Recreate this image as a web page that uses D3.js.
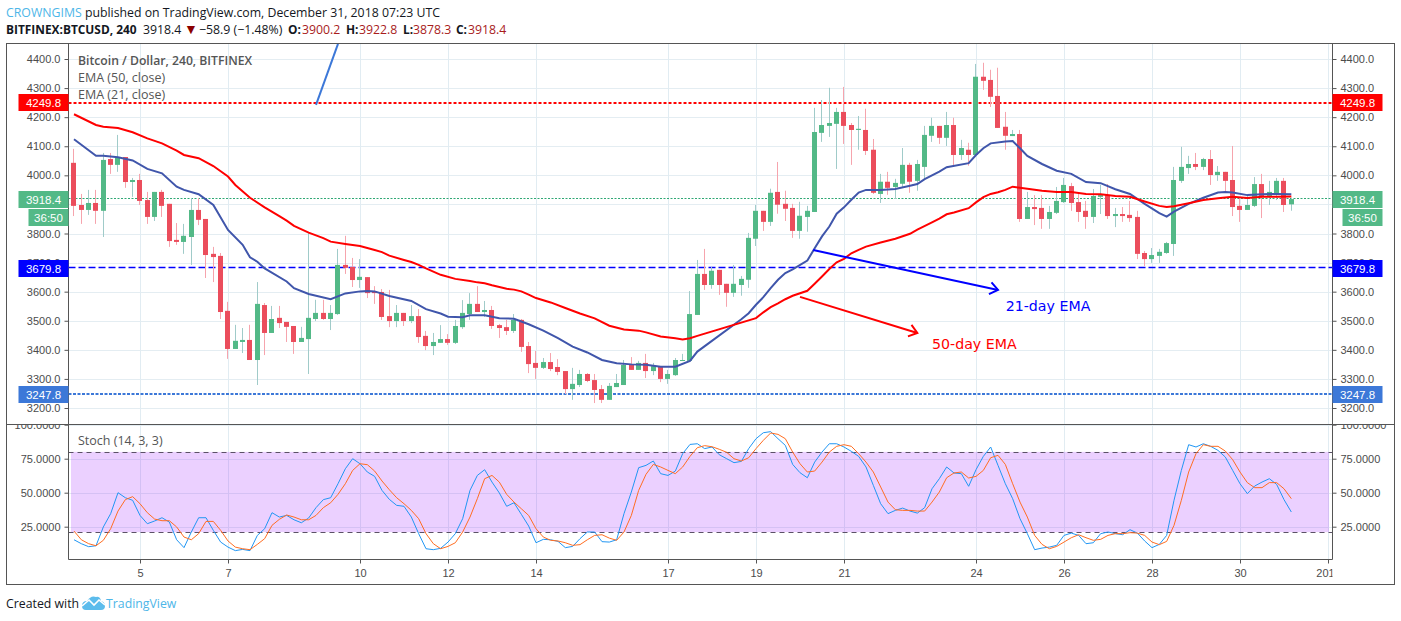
<!DOCTYPE html>
<html>
<head>
<meta charset="utf-8">
<title>BTCUSD 240</title>
<script src="https://d3js.org/d3.v7.min.js"></script>
<style>
	html, body { margin: 0; padding: 0; background: #fff; }
	svg { display: block; }
	.axis text { font: 11px "Liberation Sans", Arial, sans-serif; fill: #4c4c4c; }
	.axis path, .axis line { stroke: #555; }
	.legend { font: 12.5px "Open Sans", sans-serif; fill: #555; }
	.head { font: 12.3px "Open Sans", sans-serif; fill: #131722; }
	.badge { font: 11.5px "Liberation Sans", Arial, sans-serif; fill: #fff; text-anchor: middle; }
	.note { font: 14.2px "DejaVu Sans", sans-serif; }
</style>
</head>
<body>
<div id="chart"></div>
<script>
// one candle every 4 hours, first candle is bar 0
var firstDay = 3.5, barsPerDay = 6;

var opens = [
	4043,3898,3881,3905,3878,4056,4036,4063,3977,3984,
	3915,3857,3943,3902,3778,3771,3788,3881,3850,3730,
	3723,3534,3403,3427,3434,3365,3554,3458,3510,3496,
	3482,3427,3437,3506,3527,3506,3523,3692,3685,3640,
	3650,3602,3599,3516,3499,3527,3499,3516,3448,3413,
	3424,3437,3424,3478,3523,3558,3530,3537,3485,3478,
	3465,3503,3413,3355,3338,3358,3341,3327,3265,3279,
	3317,3296,3265,3228,3272,3279,3348,3331,3355,3327,
	3344,3300,3313,3362,3362,3520,3661,3623,3675,3627,
	3596,3623,3641,3782,3878,3840,3943,3902,3888,3809,
	3857,3874,4146,4170,4177,4218,4173,4156,4156,4088,
	3936,3978,3960,3971,4036,3981,4029,4136,4170,4129,
	4173,4070,4088,4070,4339,4328,4273,4167,4135,4142,
	3850,3891,3888,3850,3871,3908,3963,3908,3878,3857,
	3926,3932,3860,3867,3864,3857,3733,3712,3723,3733,
	3764,3981,4025,4039,4029,4056,4001,4012,3984,3895,
	3881,3895,3970,3929,3936,3981,3900.2
];
var highs = [
	4091,3936,3950,3950,4077,4077,4139,4063,3991,4005,
	3943,3943,3950,3902,3836,3833,3922,3922,3850,3754,
	3733,3565,3486,3475,3486,3633,3561,3551,3551,3496,
	3482,3479,3802,3572,3572,3554,3747,3792,3716,3712,
	3650,3619,3609,3606,3554,3527,3554,3540,3465,3458,
	3485,3454,3503,3571,3595,3619,3568,3551,3489,3503,
	3523,3506,3427,3396,3372,3389,3368,3327,3338,3331,
	3320,3317,3279,3286,3317,3365,3375,3362,3386,3355,
	3344,3331,3372,3386,3602,3709,3747,3685,3675,3627,
	3692,3654,3802,3898,3878,3954,4046,3947,3902,3909,
	3895,4232,4259,4301,4232,4304,4180,4204,4229,4125,
	4005,4012,3988,4094,4043,4053,4170,4198,4170,4218,
	4198,4122,4112,4383,4387,4363,4370,4218,4156,4156,
	3943,3932,3932,3895,3960,3991,3974,3936,3912,3953,
	3967,3970,3888,3891,3912,3878,3740,3750,3747,3771,
	4029,4098,4067,4077,4060,4087,4032,4012,4101,3926,
	3929,3994,4005,3981,3991,3991,3922.8
];
var lows = [
	3860,3833,3864,3833,3788,4005,4012,3957,3926,3898,
	3833,3843,3857,3754,3761,3730,3692,3829,3647,3633,
	3506,3369,3403,3389,3365,3279,3382,3458,3475,3427,
	3386,3427,3317,3499,3503,3468,3520,3661,3616,3613,
	3578,3558,3503,3478,3478,3482,3492,3424,3399,3382,
	3424,3417,3420,3472,3503,3530,3513,3472,3441,3451,
	3458,3393,3320,3300,3334,3327,3313,3248,3228,3272,
	3289,3217,3217,3228,3272,3279,3331,3331,3303,3313,
	3289,3283,3310,3362,3362,3520,3606,3610,3589,3548,
	3582,3586,3613,3757,3809,3826,3868,3843,3785,3782,
	3806,3874,4115,4132,4022,4108,4036,4088,4070,3936,
	3905,3933,3919,3960,3940,3947,3984,4115,4108,4101,
	4033,4053,4033,4070,4294,4235,4163,4088,4135,3840,
	3850,3829,3816,3816,3867,3905,3878,3840,3816,3836,
	3867,3850,3822,3840,3840,3712,3688,3699,3699,3730,
	3723,3974,4005,4018,4018,3967,3981,3943,3860,3840,
	3881,3891,3853,3898,3915,3874,3878.3
];
var closes = [
	3895,3881,3905,3878,4053,4036,4063,3977,3984,3912,
	3857,3943,3895,3774,3771,3792,3881,3847,3726,3719,
	3530,3403,3431,3434,3365,3558,3458,3506,3492,3479,
	3427,3441,3510,3527,3506,3527,3692,3682,3640,3651,
	3595,3595,3513,3499,3527,3499,3516,3444,3413,3427,
	3437,3424,3482,3527,3558,3530,3537,3482,3475,3465,
	3503,3410,3351,3338,3358,3334,3324,3265,3283,3317,
	3293,3262,3228,3276,3286,3348,3331,3355,3327,3344,
	3300,3317,3365,3365,3523,3661,3623,3672,3623,3596,
	3627,3644,3785,3878,3840,3940,3899,3885,3809,3861,
	3878,4149,4173,4180,4218,4170,4156,4160,4084,3940,
	3978,3957,3974,4036,3978,4039,4139,4170,4129,4173,
	4070,4094,4070,4339,4325,4270,4163,4136,4142,3850,
	3891,3884,3850,3874,3912,3967,3905,3874,3857,3929,
	3932,3860,3867,3860,3853,3730,3712,3726,3737,3767,
	3984,4029,4039,4029,4056,4001,4012,3981,3891,3881,
	3898,3970,3929,3943,3981,3898,3918.4
];

// EMAs at the bars where they bend
var ema21Bars = [0,3,4,6,8,10,12,14,15,17,19,21,23,24,25,26,29,30,32,35,37,39,40,41,43,46,48,50,51,53,54,56,58,60,62,64,66,68,70,72,74,76,78,80,82,84,85,91,92,93,94,95,96,97,98,100,101,102,103,104,105,106,107,108,110,112,114,115,116,118,119,122,123,124,125,127,128,129,130,132,134,136,138,140,142,144,146,148,149,150,152,154,156,157,158,160,162,164,166];
var ema21Values = [4124,4067,4067,4062,4051,4022,4007,3961,3950,3935,3898,3812,3761,3718,3703,3680,3635,3612,3592,3574,3594,3601,3602,3601,3585,3568,3540,3525,3514,3512,3519,3519,3509,3507,3488,3466,3440,3411,3391,3365,3354,3350,3349,3342,3342,3362,3394,3505,3526,3555,3581,3612,3641,3664,3677,3707,3749,3790,3824,3868,3890,3916,3941,3950,3950,3953,3964,3970,3987,4013,4028,4042,4070,4093,4110,4116,4118,4093,4067,4039,4016,4005,3977,3973,3952,3936,3902,3870,3858,3875,3902,3923,3941,3943,3941,3932,3935,3936,3935];
var ema50Bars = [0,3,4,6,8,10,12,14,15,17,19,21,22,24,26,28,29,30,32,34,35,37,39,41,42,43,45,46,47,48,50,52,54,55,56,57,59,60,61,62,63,65,67,69,71,73,75,77,78,80,82,83,84,85,93,94,95,96,97,98,100,101,102,103,104,105,106,107,108,110,112,114,115,117,118,119,120,122,123,124,125,126,127,128,130,132,134,136,138,140,142,144,146,148,149,150,152,154,156,158,160,162,164,166];
var ema50Values = [4210,4173,4167,4163,4148,4127,4110,4085,4070,4059,4032,3996,3967,3923,3890,3860,3844,3826,3803,3784,3772,3764,3757,3743,3736,3724,3709,3702,3692,3680,3658,3644,3637,3632,3629,3622,3610,3607,3601,3590,3578,3563,3544,3525,3508,3483,3470,3466,3460,3446,3440,3436,3440,3448,3509,3529,3547,3560,3574,3586,3603,3627,3652,3678,3701,3713,3732,3744,3755,3769,3782,3799,3813,3838,3851,3866,3872,3887,3907,3925,3936,3942,3950,3961,3954,3947,3943,3943,3936,3935,3929,3926,3910,3895,3891,3894,3904,3915,3921,3926,3922,3926,3926,3927];

// stochastic, one value per bar
var stochK = [
	15.4,12.5,10.3,11,24.8,34.6,50,46.3,44.4,33.3,
	27.2,29.2,31.6,28.4,15.4,9.6,21.1,31.6,31.6,22.3,
	13.7,10,7.4,8.3,7.4,18.6,23.5,35.3,32.1,33.3,
	30.1,27.9,31.4,39,44.9,46.3,56.6,67.6,75,71.3,
	65.2,62,51.7,45.1,40.7,40,32.1,19.9,8.8,8.1,
	9.1,13.7,19.9,30.9,51.7,62.7,66.9,57.8,49.8,40,
	42.6,34.1,25.5,13.2,15.7,15.4,14.2,9.6,10.5,16.2,
	21.1,21.1,14,13.7,15.4,34.6,50.5,68.4,70.1,73.3,
	64,62.7,65.9,78.7,85.5,86,82.4,83.6,77.9,75,
	72.1,73,82.4,89.7,94.1,94.9,89.7,84.8,70.8,64.7,
	61,72.5,79.9,86,86,83.6,80.4,76.7,68.9,55.4,
	41.9,34.6,37,38.7,36.5,35,39,52.9,60.3,68.9,
	64.5,64,54.7,66.9,76.7,83.6,70.1,56.6,45.6,30.9,
	19.9,8.1,9.3,10,11.3,18.6,20.3,18.6,12.5,13.2,
	19.9,21.1,19.9,19.1,22.8,20.3,14.5,9.6,12,18.6,
	44.4,66.4,85.3,83.6,86,84.1,81.1,76.2,66.4,56.6,
	49.3,54.9,57.8,60.3,56.1,44.9,35.8
];
var stochD = [
	21.8,15.4,12.5,11,15,23.5,36.5,44.9,47.1,41.9,
	35.3,30.6,29.4,29.4,24.8,17.4,15.4,19.9,28.9,28.9,
	22.3,14.5,10,8.8,8.1,12,16.2,26,30.4,33.6,
	32.1,30.1,30.1,33.3,39,42.6,48.8,56.6,66.4,71.3,
	70.6,65.9,58.6,52.2,46.3,41.9,37,30.9,19.9,12.5,
	8.8,10.5,13.2,21.1,32.1,45.6,60.3,62.7,57.8,48.8,
	43.1,38.2,33.3,23.5,17.4,15,14.5,13.2,11.3,11.8,
	15.4,18.6,19.1,16.6,15,21.1,33.3,51.7,63.5,70.8,
	68.9,66.4,64,68.9,76.7,83.1,84.6,83.8,81.9,79.7,
	75,73.3,75.7,82.4,88.5,93.9,92.9,89.7,79.9,71.3,
	65.2,65.9,72.5,79.9,84.1,85.3,84.1,78.7,72.5,65.2,
	54.2,43.1,37.5,37,37,36.5,36.5,43.1,50.5,61,
	64.5,65.2,60.8,62,66.4,75.7,77.5,70.8,56.6,43.1,
	32.1,18.6,12,8.8,10.5,13.7,16.9,19.1,16.9,15,
	15.7,18.6,19.9,19.9,20.6,20.3,18.6,13.7,11.8,14.2,
	26,44.4,65.2,78.7,85.3,84.1,84.1,80.6,74.3,65.2,
	57.4,53.7,53.7,57.4,57.4,52.9,45.6
];

var priceTicks = [3200,3300,3400,3500,3600,3700,3800,3900,4000,4100,4200,4300,4400];
var stochTicks = [25,50,75,100];
var dayTicks = [5,7,10,12,14,17,19,21,24,26,28,30,32];
var dayLabels = ["5","7","10","12","14","17","19","21","24","26","28","30","2019"];
var stochBand = [21,80];

// horizontal levels
var levels = [
	{ price: 4249.8, color: "#ff0000", width: 2, dash: "3,2" },
	{ price: 3679.8, color: "#0000ff", width: 1.5, dash: "7,3" },
	{ price: 3247.8, color: "#3c78d8", width: 2, dash: "3,1.5" },
	{ price: 3918.4, color: "#2fa874", width: 1, dash: "2,1.5" }
];

var width = 1401, height = 621;
var box = { left: 6.5, top: 43.5, right: 1394.5, bottom: 584.5 };
var plot = { left: 68.5, right: 1332.5, top: 43.5, mid: 424.5, bottom: 559.5 };

var x = d3.scaleLinear().domain([5, 32]).range([140, 1328]);
var y = d3.scaleLinear().domain([3200, 4400]).range([408, 59]);
var yS = d3.scaleLinear().domain([25, 75]).range([526.7, 458.7]);

function barX(i) { return x(firstDay + i / barsPerDay); }
function candleX(i) { return Math.round(barX(i) - 0.6); }
function levelY(d) { return Math.round(y(d.price)) - (d.width === 2 ? 0 : 0.5); }

var svg = d3.select("#chart").append("svg").attr("width", width).attr("height", height);

var defs = svg.append("defs");
defs.append("clipPath").attr("id", "clipMain").append("rect")
	.attr("x", plot.left).attr("y", plot.top).attr("width", plot.right - plot.left).attr("height", plot.mid - plot.top);
defs.append("clipPath").attr("id", "clipStoch").append("rect")
	.attr("x", plot.left).attr("y", plot.mid).attr("width", plot.right - plot.left).attr("height", plot.bottom - plot.mid);
defs.append("clipPath").attr("id", "clipAll").append("rect")
	.attr("x", 0).attr("y", plot.mid).attr("width", width).attr("height", box.bottom - plot.mid);
defs.append("clipPath").attr("id", "clipDays").append("rect")
	.attr("x", plot.left).attr("y", plot.bottom).attr("width", plot.right - plot.left).attr("height", 25);

// grid
var grid = svg.append("g");
grid.selectAll("line.hp").data(priceTicks).enter().append("line")
	.attr("x1", plot.left).attr("x2", plot.right)
	.attr("y1", function(d){ return Math.round(y(d)) + 0.5; }).attr("y2", function(d){ return Math.round(y(d)) + 0.5; })
	.attr("stroke", "#e4edf2");
grid.selectAll("line.hs").data(stochTicks).enter().append("line")
	.attr("x1", plot.left).attr("x2", plot.right)
	.attr("y1", function(d){ return Math.round(yS(d)) + 0.5; }).attr("y2", function(d){ return Math.round(yS(d)) + 0.5; })
	.attr("stroke", "#e4edf2");
grid.selectAll("line.vm").data(dayTicks).enter().append("line")
	.attr("x1", function(d){ return x(d) + 0.5; }).attr("x2", function(d){ return x(d) + 0.5; })
	.attr("y1", plot.top).attr("y2", plot.bottom)
	.attr("stroke", "#e1ecf2");

// level lines
var main = svg.append("g").attr("clip-path", "url(#clipMain)");
main.selectAll("line.level").data(levels).enter().append("line")
	.attr("class", "level")
	.attr("x1", plot.left).attr("x2", plot.right)
	.attr("y1", levelY).attr("y2", levelY)
	.attr("stroke", function(d){ return d.color; })
	.attr("stroke-width", function(d){ return d.width; })
	.attr("stroke-dasharray", function(d){ return d.dash; });

// candles
var candles = main.selectAll("g.candle").data(d3.range(opens.length)).enter().append("g").attr("class", "candle");
candles.append("line")
	.attr("x1", function(i){ return candleX(i) + 0.5; })
	.attr("x2", function(i){ return candleX(i) + 0.5; })
	.attr("y1", function(i){ return y(highs[i]); })
	.attr("y2", function(i){ return y(lows[i]); })
	.attr("stroke", function(i){ return closes[i] >= opens[i] ? "#a0cbc9" : "#f6a4ad"; });
candles.append("rect")
	.attr("x", function(i){ return candleX(i) - 2; })
	.attr("width", 5)
	.attr("y", function(i){ return y(Math.max(opens[i], closes[i])); })
	.attr("height", function(i){ return Math.max(1, Math.abs(y(opens[i]) - y(closes[i]))); })
	.attr("fill", function(i){ return closes[i] >= opens[i] ? "#53b987" : "#eb4d5c"; });

// EMAs
function emaPath(bars, values) {
	return d3.line()
		.x(function(d){ return barX(d); })
		.y(function(d, i){ return y(values[i]); })(bars);
}
main.append("path").attr("d", emaPath(ema21Bars, ema21Values))
	.attr("fill", "none").attr("stroke", "#4056ab").attr("stroke-width", 2);
main.append("path").attr("d", emaPath(ema50Bars, ema50Values))
	.attr("fill", "none").attr("stroke", "#ff0000").attr("stroke-width", 2);

// drawn on top by the author: trend line and two arrows, given as bar / price
var arrows = [
	{ from: [33, 4242], to: [36, 4452], color: "#3c78d8", head: false },
	{ from: [100.8, 3743], to: [126, 3606], color: "#0000ff", head: true },
	{ from: [99, 3582], to: [115, 3458], color: "#ff0000", head: true }
];
arrows.forEach(function(a) {
	var x1 = barX(a.from[0]), y1 = y(a.from[1]), x2 = barX(a.to[0]), y2 = y(a.to[1]);
	main.append("line").attr("x1", x1).attr("y1", y1).attr("x2", x2).attr("y2", y2)
		.attr("stroke", a.color).attr("stroke-width", 2);
	if (a.head) {
		var ang = Math.atan2(y2 - y1, x2 - x1), len = 10, spread = 0.65;
		var p = [[x2 - len * Math.cos(ang - spread), y2 - len * Math.sin(ang - spread)], [x2, y2],
			[x2 - len * Math.cos(ang + spread), y2 - len * Math.sin(ang + spread)]];
		main.append("path").attr("d", d3.line()(p)).attr("fill", "none")
			.attr("stroke", a.color).attr("stroke-width", 2);
	}
});
main.append("text").attr("class", "note").attr("x", barX(127.05)).attr("y", y(3534)).attr("fill", "#0000ff").text("21-day EMA");
main.append("text").attr("class", "note").attr("x", barX(117)).attr("y", y(3402)).attr("fill", "#ff0000").text("50-day EMA");

// stochastic pane
var stoch = svg.append("g").attr("clip-path", "url(#clipStoch)");
stoch.append("rect")
	.attr("x", x(firstDay) - 3).attr("width", x(32) - x(firstDay) + 4)
	.attr("y", yS(stochBand[1])).attr("height", yS(stochBand[0]) - yS(stochBand[1]))
	.attr("fill", "#9915ff").attr("fill-opacity", 0.2);
stoch.selectAll("line.band").data(stochBand).enter().append("line")
	.attr("x1", plot.left).attr("x2", plot.right)
	.attr("y1", function(d){ return Math.round(yS(d)) + 0.5; }).attr("y2", function(d){ return Math.round(yS(d)) + 0.5; })
	.attr("stroke", "#5b5166").attr("stroke-dasharray", "5,4");
var stochLine = d3.line().x(function(d, i){ return barX(i); }).y(function(d){ return yS(d); });
stoch.append("path").attr("d", stochLine(stochK)).attr("fill", "none").attr("stroke", "#2196f3").attr("stroke-width", 1);
stoch.append("path").attr("d", stochLine(stochD)).attr("fill", "none").attr("stroke", "#ff6d22").attr("stroke-width", 1);

// axes
var fmtPrice = d3.format(".1f"), fmtStoch = d3.format(".4f");
function dressAxis(g) { g.attr("class", "axis"); g.select(".domain").remove(); g.selectAll("text").attr("fill", null); }

var axes = svg.append("g");
axes.append("g").attr("transform", "translate(" + plot.left + ",0)")
	.call(d3.axisLeft(y).tickValues(priceTicks).tickFormat(fmtPrice).tickSize(4).tickPadding(4)).call(dressAxis);
axes.append("g").attr("transform", "translate(" + plot.right + ",0)")
	.call(d3.axisRight(y).tickValues(priceTicks).tickFormat(fmtPrice).tickSize(4).tickPadding(4)).call(dressAxis);
var stochAxes = axes.append("g").attr("clip-path", "url(#clipAll)");
stochAxes.append("g").attr("transform", "translate(" + plot.left + ",0)")
	.call(d3.axisLeft(yS).tickValues(stochTicks).tickFormat(fmtStoch).tickSize(4).tickPadding(4)).call(dressAxis);
stochAxes.append("g").attr("transform", "translate(" + plot.right + ",0)")
	.call(d3.axisRight(yS).tickValues(stochTicks).tickFormat(fmtStoch).tickSize(4).tickPadding(4)).call(dressAxis);
axes.append("g").attr("clip-path", "url(#clipDays)").append("g").attr("transform", "translate(0," + plot.bottom + ")")
	.call(d3.axisBottom(x).tickValues(dayTicks).tickFormat(function(d, i){ return dayLabels[i]; }).tickSize(4).tickPadding(6)).call(dressAxis);

// frame
var frame = svg.append("g").attr("fill", "none").attr("stroke", "#555");
frame.append("rect").attr("x", box.left).attr("y", box.top).attr("width", box.right - box.left).attr("height", box.bottom - box.top);
frame.append("line").attr("x1", box.left).attr("x2", box.right).attr("y1", plot.mid).attr("y2", plot.mid);
frame.append("line").attr("x1", plot.left).attr("x2", plot.right).attr("y1", plot.bottom).attr("y2", plot.bottom);
frame.append("line").attr("x1", plot.left).attr("x2", plot.left).attr("y1", plot.top).attr("y2", plot.bottom);
frame.append("line").attr("x1", plot.right).attr("x2", plot.right).attr("y1", plot.top).attr("y2", plot.bottom);

// price badges on both axes
var badges = [
	{ price: 4249.8, text: "4249.8", fill: "#ff0000" },
	{ price: 3679.8, text: "3679.8", fill: "#0000ff" },
	{ price: 3247.8, text: "3247.8", fill: "#3c78d8" },
	{ price: 3918.4, text: "3918.4", fill: "#53b987" }
];
var badgeW = 50, badgeH = 17;
[plot.left - badgeW, plot.right].forEach(function(bx) {
	badges.forEach(function(b) {
		var by = Math.round(y(b.price) - badgeH / 2);
		svg.append("rect").attr("x", bx).attr("y", by).attr("width", badgeW).attr("height", badgeH).attr("fill", b.fill);
		svg.append("text").attr("class", "badge").attr("x", bx + badgeW / 2).attr("y", by + 12.5).text(b.text);
	});
});
// countdown under the last price
[plot.left - 40, plot.right + 10].forEach(function(bx) {
	var by = Math.round(y(3918.4) + badgeH / 2) + 1;
	svg.append("rect").attr("x", bx).attr("y", by).attr("width", 40).attr("height", badgeH).attr("fill", "#53b987");
	svg.append("text").attr("class", "badge").attr("x", bx + 20).attr("y", by + 12.5).text("36:50");
});

// pane legends
svg.append("text").attr("class", "legend").attr("x", 78).attr("y", 65).style("font-weight", 600).style("font-size", "12.2px").text("Bitcoin / Dollar, 240, BITFINEX");
svg.append("text").attr("class", "legend").attr("x", 78).attr("y", 82).text("EMA (50, close)");
svg.append("text").attr("class", "legend").attr("x", 78).attr("y", 99).text("EMA (21, close)");
svg.append("text").attr("class", "legend").attr("x", 78).attr("y", 445).text("Stoch (14, 3, 3)");

// header
var h1 = svg.append("text").attr("class", "head").attr("x", 6).attr("y", 17);
h1.append("tspan").style("fill", "#4db6e8").text("CROWNGIMS");
h1.append("tspan").text(" published on TradingView.com, December 31, 2018 07:23 UTC");

var h2 = svg.append("text").attr("class", "head").attr("y", 34);
function part(t, px, bold, color, size) {
	var s = h2.append("tspan").attr("x", px).text(t);
	if (bold) s.style("font-weight", 700).style("font-size", "11.9px");
	if (color) s.style("fill", color);
	if (size) s.style("font-size", size);
}
var valueRed = "#a81c1c";
part("BITFINEX:BTCUSD, 240", 6, true);
part("3918.4", 143);
part("\u25BC", 184, false, "#8b0000", "14px");
part("\u221258.9 (\u22121.48%)", 199);
part("O:", 288, true); part("3900.2", 302, false, valueRed);
part("H:", 346, true); part("3922.8", 359, false, valueRed);
part("L:", 403, true); part("3878.3", 413, false, valueRed);
part("C:", 456, true); part("3918.4", 468, false, valueRed);

// footer
svg.append("text").attr("class", "head").attr("x", 6).attr("y", 608).text("Created with");
var logoLine = d3.line().curve(d3.curveLinear);
svg.append("path")
	.attr("d", "M82 606 Q82 601 87 601 Q91 595 96 597 Q100 596 101 601 Q105 602 105 606 Q105 610 101 610 L86 610 Q82 610 82 606 Z")
	.attr("fill", "#5cbcec");
svg.append("path").attr("d", logoLine([[82, 606], [89, 600], [94, 605], [99, 600], [105, 605]]))
	.attr("fill", "none").attr("stroke", "#fff").attr("stroke-width", 1.6);
svg.append("text").attr("class", "head").attr("x", 106).attr("y", 608).style("fill", "#4db6e8").text("TradingView");
</script>
</body>
</html>
